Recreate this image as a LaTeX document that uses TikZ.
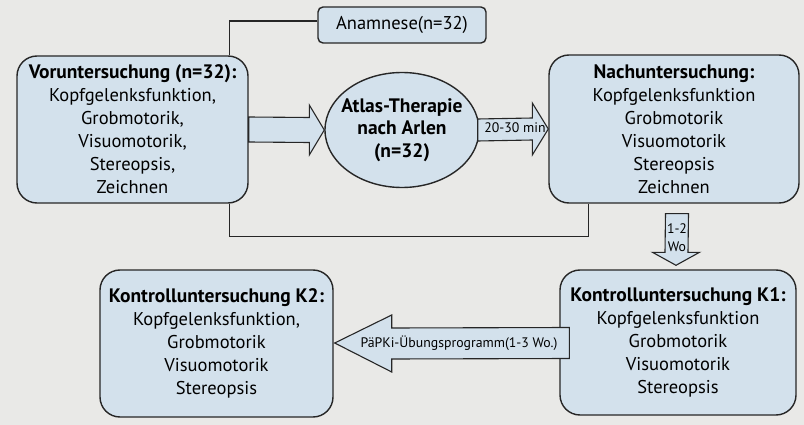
\documentclass[tikz,border=0pt]{standalone}
\usepackage{fontspec}
\setmainfont{PT Sans}
\usetikzlibrary{calc,shapes.geometric}
\definecolor{bg}{HTML}{E9E9E7}
\definecolor{boxfill}{HTML}{D3E1EC}
\definecolor{ink}{HTML}{262626}
\newcommand\hd[1]{{\bfseries\fontsize{19.5}{23}\selectfont #1}}
\begin{document}
\begin{tikzpicture}[x=1pt,y=-1pt,
 box/.style={draw=ink, line width=1.4pt, fill=boxfill, rounded corners=20pt, align=center, inner sep=0pt, font=\fontsize{18.5}{23}\selectfont},
 barrow/.style={draw=ink, line width=1.1pt, fill=boxfill, line join=miter},
 link/.style={draw=ink, line width=1.2pt},
 small/.style={font=\fontsize{13.8}{18}\selectfont, inner sep=0pt, align=center}]
\fill[bg] (0,0) rectangle (804,425);
\useasboundingbox (0,0) rectangle (804,425);
% boxes
\node[box, minimum width=168pt, minimum height=36pt, rounded corners=5pt] (anam) at (402,25) {Anamnese(n=32)};
\node[box, minimum width=231pt, minimum height=147pt] (vor) at (132.5,129.5) {\hd{Voruntersuchung (n=32):}\\Kopfgelenksfunktion,\\Grobmotorik,\\Visuomotorik,\\Stereopsis,\\Zeichnen};
\node[box, minimum width=250pt, minimum height=148pt] (nach) at (674,129) {\hd{Nachuntersuchung:}\\Kopfgelenksfunktion\\Grobmotorik\\Visuomotorik\\Stereopsis\\Zeichnen};
\node[box, minimum width=236pt, minimum height=145pt] (k1) at (678,342.5) {\hd{Kontrolluntersuchung K1:}\\Kopfgelenksfunktion\\Grobmotorik\\Visuomotorik\\Stereopsis};
\node[box, minimum width=233pt, minimum height=147pt] (k2) at (216.5,343.5) {\hd{Kontrolluntersuchung K2:}\\Kopfgelenksfunktion,\\Grobmotorik\\Visuomotorik\\Stereopsis};
\node[draw=ink, line width=1.4pt, fill=boxfill, ellipse, minimum width=154pt, minimum height=115pt, inner sep=0pt] (ell) at (402,130) {};
\node[align=center, inner sep=0pt, font=\bfseries\fontsize{19.5}{22.5}\selectfont] (ellt) at (ell.center) {Atlas-Therapie\\nach Arlen\\(n=32)};
% thin connector lines
\draw[link] ($(anam.west)+(0,-4)$) -| ($(vor.north east)+(-19,0)$);
\draw[link] ($(vor.south east)+(-19,0)$) -- ++(0,33) -| ($(nach.south west)+(40,0)$);
% block arrow 1
\draw[barrow] ($(vor.east)+(0,-12.5)$) -- ($(ell.west)+(-15,-12.5)$) -- ($(ell.west)+(-15,-25)$) -- (ell.west)
  -- ($(ell.west)+(-15,25)$) -- ($(ell.west)+(-15,12.5)$) -- ($(vor.east)+(0,12.5)$) -- cycle;
% block arrow 2
\draw[barrow] ($(ell.east)+(-2,-11)$) -- ($(nach.west)+(-16,-11)$) -- ($(nach.west)+(-16,-26)$) -- (nach.west)
  -- ($(nach.west)+(-16,26)$) -- ($(nach.west)+(-16,11)$) -- ($(ell.east)+(-2,11)$) -- cycle;
\node[small] (l2) at (515,127.5) {20-30 min};
% block arrow 3
\coordinate (t3) at ($(k1.north)+(-2,-4)$);
\draw[barrow] ($(nach.south)+(-8.5,10)$) -- ($(nach.south)+(14.5,10)$) -- ($(t3)+(12,-13)$) -- ($(t3)+(23.5,-13)$) -- (t3)
  -- ($(t3)+(-23.5,-13)$) -- ($(t3)+(-11,-13)$) -- cycle;
\node[small] (l3) at (677,237.5) {1-2\\Wo};
% block arrow 4
\coordinate (t4) at ($(k2.east)+(1,-0.5)$);
\draw[barrow] ($(k1.west)+(10,-15)$) -- ($(t4)+(57,-15)$) -- ($(t4)+(57,-28)$) -- (t4)
  -- ($(t4)+(57,29)$) -- ($(t4)+(57,16)$) -- ($(k1.west)+(10,16)$) -- cycle;
\node[small] (l4) at (459,343) {PäPKi-Übungsprogramm(1-3 Wo.)};
\end{tikzpicture}
\end{document}
